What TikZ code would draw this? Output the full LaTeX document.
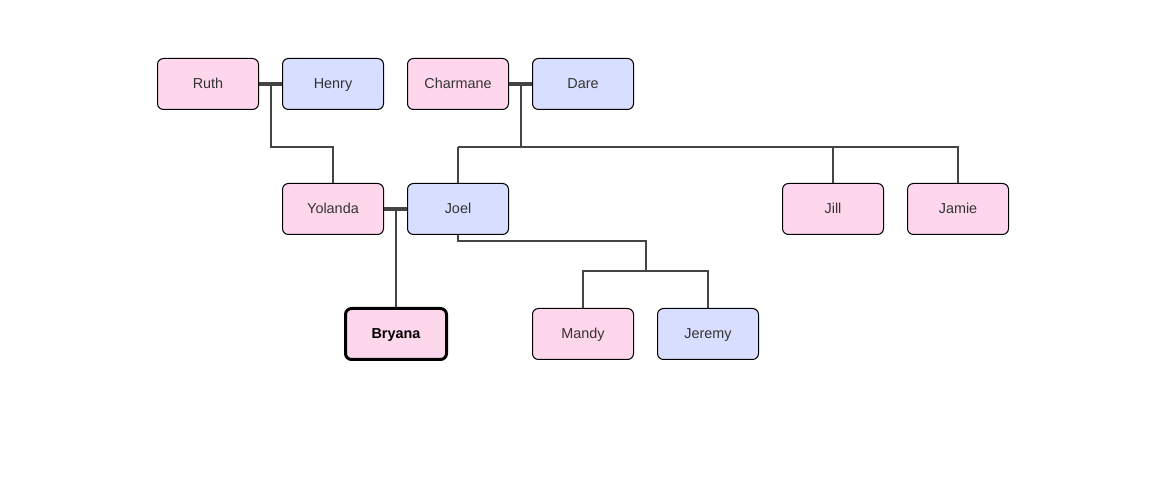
\documentclass[tikz,border=0pt]{standalone}
\usepackage{fontspec}
\setmainfont{Liberation Sans}
\usetikzlibrary{calc}
\definecolor{girl}{RGB}{255,215,236}
\definecolor{boy}{RGB}{215,222,255}
\definecolor{wire}{RGB}{68,68,68}
\tikzset{
  person/.style={draw=black,line width=0.75pt,rounded corners=4.5pt,minimum width=75.75pt,minimum height=38.25pt,inner sep=0pt,text height=1.55ex,text depth=0.35ex,font=\fontsize{10.8}{12}\selectfont,text=black!80},
  she/.style={person,fill=girl},
  he/.style={person,fill=boy},
  marriage/.style={draw=wire,line width=3pt},
  descent/.style={draw=wire,line width=1.5pt}
}
\begin{document}
\begin{tikzpicture}[x=0.75pt,y=-0.75pt]
\useasboundingbox (0,0) rectangle (1168,498);
% first generation
\node[she] (Ruth) at (208,84) {Ruth};
\node[he] (Henry) at (333,84) {Henry};
\node[she] (Charmane) at (458,84) {Charmane};
\node[he] (Dare) at (583,84) {Dare};
% second generation
\node[she] (Yolanda) at (333,209) {Yolanda};
\node[he] (Joel) at (458,209) {Joel};
\node[she] (Jill) at (833,209) {Jill};
\node[she] (Jamie) at (958,209) {Jamie};
% third generation
\node[she,line width=2.25pt,font=\fontsize{10.8}{12}\selectfont\bfseries,text=black] (Bryana) at (396,334) {Bryana};
\node[she] (Mandy) at (583,334) {Mandy};
\node[he] (Jeremy) at (708,334) {Jeremy};
% couples
\coordinate (rh) at ($(Ruth.east)!0.5!(Henry.west)$);
\coordinate (cd) at ($(Charmane.east)!0.5!(Dare.west)$);
\coordinate (yj) at ($(Yolanda.east)!0.5!(Joel.west)$);
\draw[descent] (rh) -- ++(0,63) -| (Yolanda.north);
\draw[descent] (cd) -- ++(0,63) coordinate (cdbar);
\draw[descent] (cdbar -| Joel.north) -- (cdbar -| Jamie.north) -- (Jamie.north);
\draw[descent] (Joel.north) -- (cdbar -| Joel.north);
\draw[descent] (Jill.north) -- (cdbar -| Jill.north);
\draw[descent] (yj) -- (yj |- Bryana.north);
\draw[descent] (Joel.south) -- ++(0,6) -| (646,271) coordinate (mj);
\draw[descent] (Mandy.north) |- (mj) -| (Jeremy.north);
\draw[marriage] (Ruth.east) -- (Henry.west);
\draw[marriage] (Charmane.east) -- (Dare.west);
\draw[marriage] (Yolanda.east) -- (Joel.west);
\end{tikzpicture}
\end{document}
